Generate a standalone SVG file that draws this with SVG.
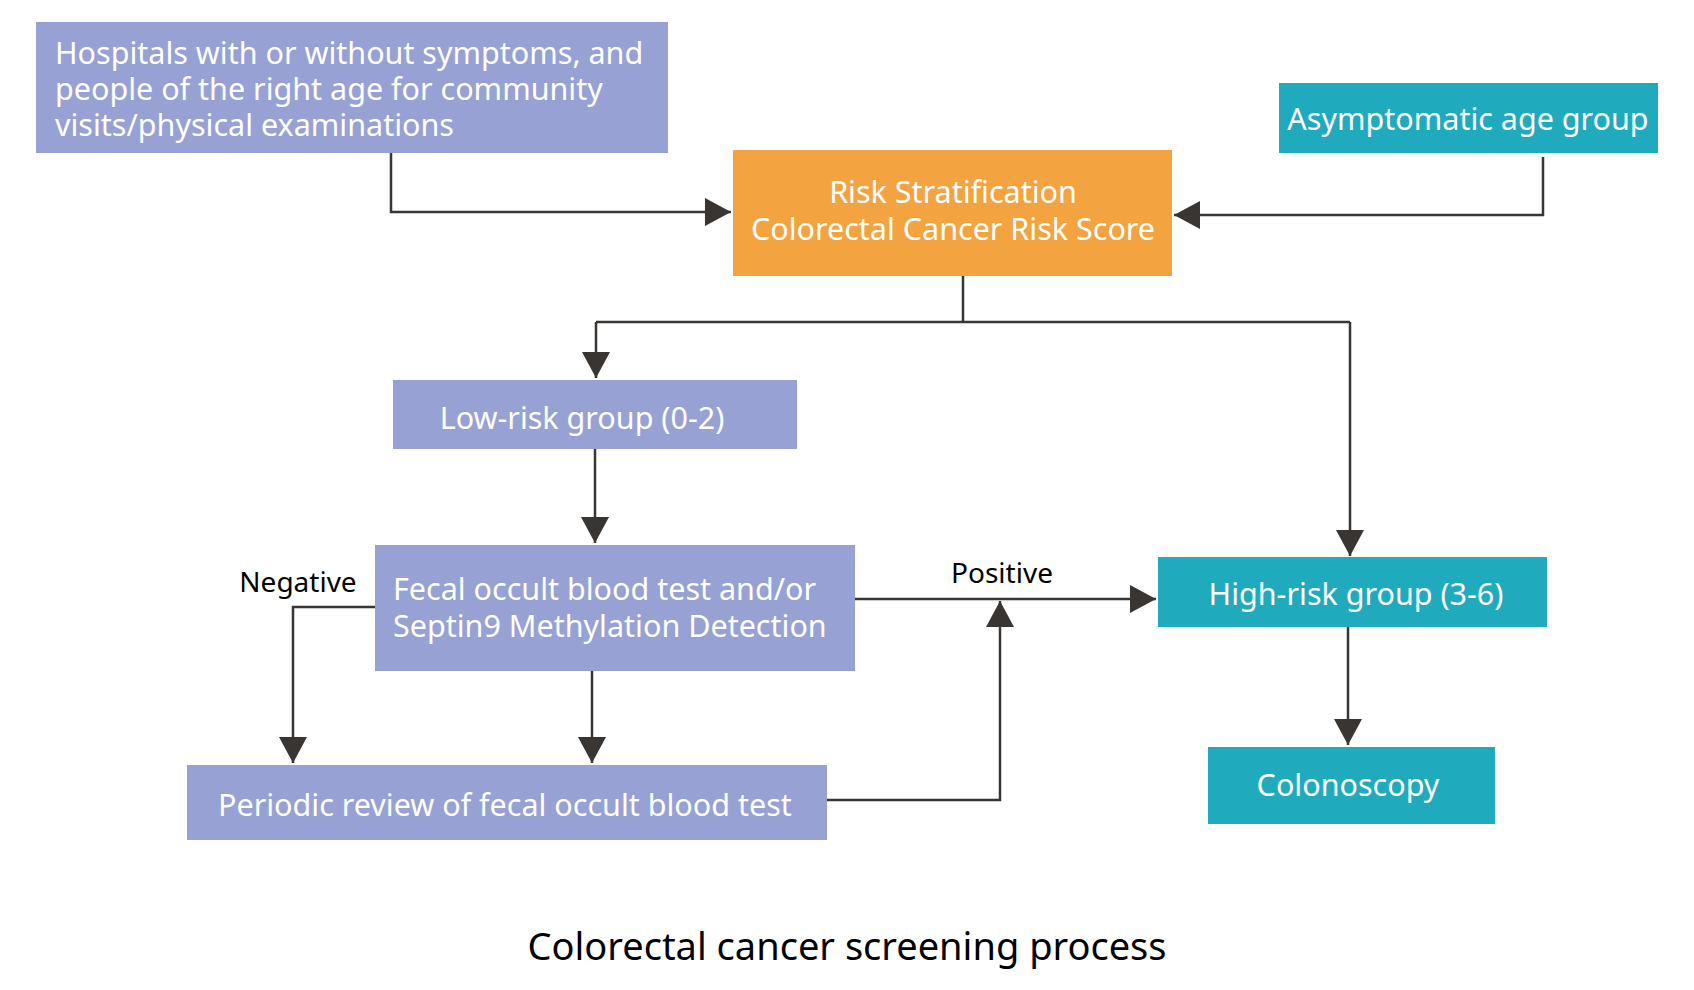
<svg xmlns="http://www.w3.org/2000/svg" width="1694" height="990" viewBox="0 0 1694 990">
<style>
text{font-family:"Noto Sans","Open Sans",sans-serif;dominant-baseline:central}
.n{font-size:30.5px;fill:#fff}
.c{text-anchor:middle}
.p{fill:#97A1D3}.t{fill:#1FAABD}.o{fill:#F4A341}
.l{fill:none;stroke:#383533;stroke-width:2.5}
.lb{font-size:28px;fill:#000}
</style>
<defs><marker id="a" markerUnits="userSpaceOnUse" markerWidth="32" markerHeight="32" refX="26" refY="14" orient="auto"><path d="M0,0 L26,14 L0,28Z" fill="#383533"/></marker></defs>
<rect width="1694" height="990" fill="#fff"/>
<g id="connectors">
<polyline class="l" points="391,153 391,212 731,212" marker-end="url(#a)"/>
<polyline class="l" points="1543,157 1543,215 1174,215" marker-end="url(#a)"/>
<polyline class="l" points="963,276 963,322"/>
<polyline class="l" points="596,322 1350,322"/>
<polyline class="l" points="596,322 596,378" marker-end="url(#a)"/>
<polyline class="l" points="1350,322 1350,556" marker-end="url(#a)"/>
<polyline class="l" points="595,449 595,543" marker-end="url(#a)"/>
<polyline class="l" points="375,607 293,607 293,763" marker-end="url(#a)"/>
<polyline class="l" points="592,671 592,763" marker-end="url(#a)"/>
<polyline class="l" points="855,599 1156,599" marker-end="url(#a)"/>
<polyline class="l" points="827,800 1000,800 1000,601" marker-end="url(#a)"/>
<polyline class="l" points="1348,627 1348,745" marker-end="url(#a)"/>
</g>
<g id="n1"><rect class="p" x="36" y="22" width="632" height="131"/><text class="n" x="55" y="52">Hospitals with or without symptoms, and</text><text class="n" x="55" y="88">people of the right age for community</text><text class="n" x="55" y="124">visits/physical examinations</text></g>
<g id="n2"><rect class="t" x="1279" y="83" width="379" height="70"/><text class="n c" x="1468" y="118">Asymptomatic age group</text></g>
<g id="n3"><rect class="o" x="733" y="150" width="439" height="126"/><text class="n c" x="953" y="191">Risk Stratification</text><text class="n c" x="953" y="228">Colorectal Cancer Risk Score</text></g>
<g id="n4"><rect class="p" x="393" y="380" width="404" height="69"/><text class="n c" x="582" y="417">Low-risk group (0-2)</text></g>
<g id="n5"><rect class="p" x="375" y="545" width="480" height="126"/><text class="n" x="393" y="588">Fecal occult blood test and/or</text><text class="n" x="393" y="625">Septin9 Methylation Detection</text></g>
<g id="n6"><rect class="t" x="1158" y="557" width="389" height="70"/><text class="n c" x="1356" y="593">High-risk group (3-6)</text></g>
<g id="n7"><rect class="p" x="187" y="765" width="640" height="75"/><text class="n" x="218" y="804">Periodic review of fecal occult blood test</text></g>
<g id="n8"><rect class="t" x="1208" y="747" width="287" height="77"/><text class="n c" x="1348" y="784">Colonoscopy</text></g>
<text class="lb c" x="298" y="581">Negative</text>
<text class="lb c" x="1002" y="572">Positive</text>
<text class="c" x="847" y="945" font-size="38" fill="#000">Colorectal cancer screening process</text>
</svg>
